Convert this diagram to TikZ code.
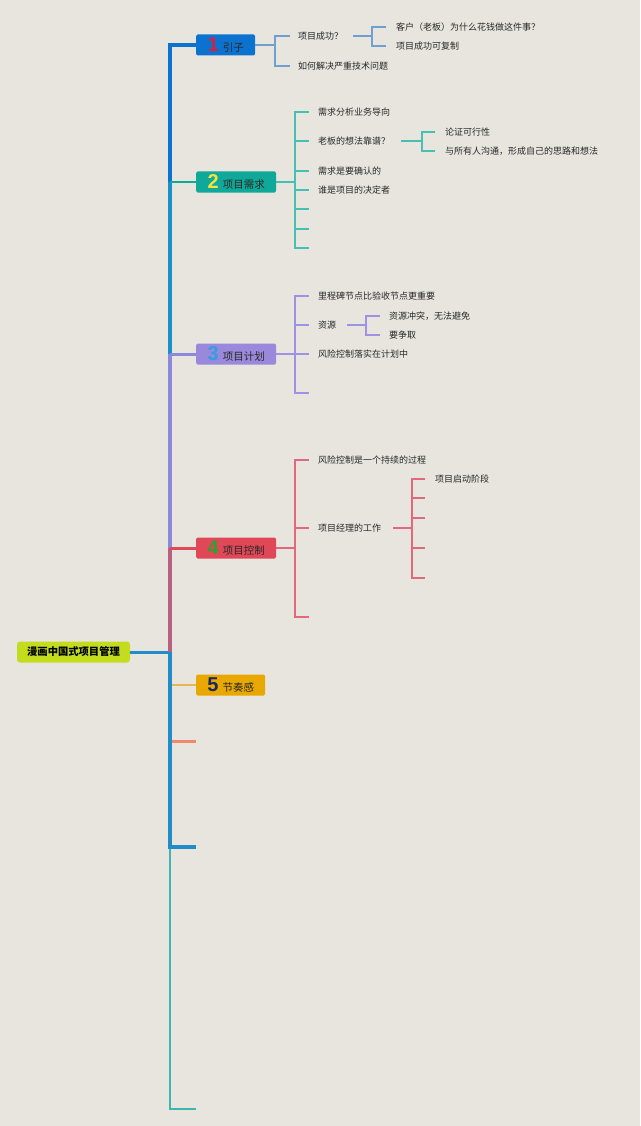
\documentclass[tikz,border=0pt]{standalone}
\usepackage{fontspec}
\setmainfont{Noto Sans CJK SC}
\newfontfamily\numfont{Liberation Sans}
\usetikzlibrary{positioning}
\usetikzlibrary{calc}
\definecolor{paper}{RGB}{232,229,223}
\definecolor{rootfill}{RGB}{196,220,30}
\definecolor{rootline}{RGB}{32,140,200}
\definecolor{topicone}{RGB}{12,114,208}
\definecolor{topictwo}{RGB}{16,168,152}
\definecolor{topicthree}{RGB}{154,136,220}
\definecolor{topicfour}{RGB}{224,72,88}
\definecolor{topicfive}{RGB}{232,168,0}
\definecolor{trunktwo}{RGB}{24,144,200}
\definecolor{trunkthree}{RGB}{140,136,220}
\definecolor{trunkfour}{RGB}{184,96,128}
\definecolor{spareline}{RGB}{240,136,112}
\definecolor{endline}{RGB}{64,180,176}
\definecolor{fiveline}{RGB}{232,184,80}
\definecolor{twigone}{RGB}{110,160,210}
\definecolor{twigtwo}{RGB}{70,192,178}
\definecolor{twigthree}{RGB}{160,146,226}
\definecolor{twigfour}{RGB}{226,104,126}
\definecolor{numone}{RGB}{216,32,60}
\definecolor{numtwo}{RGB}{240,228,64}
\definecolor{numthree}{RGB}{48,160,224}
\definecolor{numfour}{RGB}{48,160,48}
\definecolor{numfive}{RGB}{26,42,96}
\definecolor{ink}{RGB}{40,40,40}
\tikzset{
  topic/.style={anchor=west, rounded corners=1.5pt, minimum height=21pt, inner xsep=2pt, inner ysep=0pt, text=ink, font=\fontsize{10.5}{12}\selectfont},
  rootbox/.style={rounded corners=3pt, fill=rootfill, minimum width=113pt, minimum height=21pt, text=black, font=\fontsize{10.3}{12}\selectfont\bfseries},
  leaf/.style={anchor=west, inner sep=0pt, text=ink, font=\fontsize{9}{10}\selectfont},
  twig/.style={line width=1.3pt},
  trunkline/.style={line width=3.5pt},
}
\newcommand{\topicnum}[2]{{\numfont\bfseries\fontsize{20}{20}\selectfont\textcolor{#1}{#2}}\hspace{4pt}}

\begin{document}
\begin{tikzpicture}[x=1pt, y=-1pt]
    \useasboundingbox[fill=paper] (0,0) rectangle (640,1126);

    % root and main topics
    \node[rootbox] (root) at (73.5,652) {漫画中国式项目管理};
    \coordinate (trunk) at (170,652);

    \node[topic, fill=topicone, minimum width=59pt] (intro) at (196,45) {\topicnum{numone}{1}引子};
    \node[topic, fill=topictwo, minimum width=80pt] (need) at (196,182) {\topicnum{numtwo}{2}项目需求};
    \node[topic, fill=topicthree, minimum width=80pt] (plan) at (196,354) {\topicnum{numthree}{3}项目计划};
    \node[topic, fill=topicfour, minimum width=80pt] (ctrl) at (196,548) {\topicnum{numfour}{4}项目控制};
    \node[topic, fill=topicfive, minimum width=69pt] (rhythm) at (196,685) {\topicnum{numfive}{5}节奏感};
    \coordinate (spare) at (196,741);
    \coordinate (sparetwo) at (196,847);
    \coordinate (spareend) at (196,1109);

    % trunk
    \draw[line width=3pt, rootline] (root.east) -- (trunk);
    \draw[trunkline, topicone] (trunk) |- (intro.west);
    \draw[trunkline, trunktwo] (trunk) -- (trunk |- need.west);
    \draw[line width=1.5pt, topictwo] (trunk |- need.west) -- (need.west);
    \draw[trunkline, trunkthree] (trunk) -- (trunk |- plan.west);
    \draw[line width=3pt, trunkthree] (trunk |- plan.west) -- (plan.west);
    \draw[trunkline, trunkfour] (trunk) -- (trunk |- ctrl.west);
    \draw[line width=3pt, topicfour] (trunk |- ctrl.west) -- (ctrl.west);
    \draw[line width=1.5pt, endline] (trunk) |- (spareend);
    \draw[line width=1.5pt, fiveline] (trunk) |- (rhythm.west);
    \draw[line width=3pt, spareline] (trunk) |- (spare);
    \draw[trunkline, rootline] (trunk) |- (sparetwo);

    % 1
    \node[leaf] (success) at (298,36) {项目成功？};
    \node[leaf] (hardtech) at (298,66) {如何解决严重技术问题};
    \node[leaf] (why) at (396,27) {客户（老板）为什么花钱做这件事？};
    \node[leaf] (repeat) at (396,46) {项目成功可复制};
    \coordinate (introfork) at (275,45);
    \coordinate (successfork) at (372,36);
    \draw[twig, twigone] (intro.east) -- (introfork);
    \draw[twig, twigone] ([xshift=-8pt]success.west) -| (introfork) |- ([xshift=-8pt]hardtech.west);
    \draw[twig, twigone] ([xshift=10pt]success.east) -- (successfork);
    \draw[twig, twigone] ([xshift=-10pt]why.west) -| (successfork) |- ([xshift=-10pt]repeat.west);

    % 2
    \node[leaf] (biz) at (318,112) {需求分析业务导向};
    \node[leaf] (boss) at (318,141) {老板的想法靠谱？};
    \node[leaf] (confirm) at (318,171) {需求是要确认的};
    \node[leaf] (decider) at (318,190) {谁是项目的决定者};
    \node[leaf] (feasible) at (445,132) {论证可行性};
    \node[leaf] (talk) at (445,151) {与所有人沟通，形成自己的思路和想法};
    \coordinate (needfork) at (295,182);
    \coordinate (needa) at (309,209);
    \coordinate (needb) at (309,229);
    \coordinate (needc) at (309,248);
    \coordinate (bossfork) at (422,141);
    \draw[twig, twigtwo] (need.east) -- (needfork);
    \draw[twig, twigtwo] ([xshift=-9pt]biz.west) -| (needfork) |- (needc);
    \foreach \leafname in {boss,confirm,decider}
        \draw[twig, twigtwo] (needfork |- \leafname.west) -- ([xshift=-9pt]\leafname.west);
    \foreach \tick in {needa,needb}
        \draw[twig, twigtwo] (needfork |- \tick) -- (\tick);
    \draw[twig, twigtwo] ([xshift=11pt]boss.east) -- (bossfork);
    \draw[twig, twigtwo] ([xshift=-10pt]feasible.west) -| (bossfork) |- ([xshift=-10pt]talk.west);

    % 3
    \node[leaf] (milestone) at (318,296) {里程碑节点比验收节点更重要};
    \node[leaf] (resource) at (318,325) {资源};
    \node[leaf] (riskplan) at (318,354) {风险控制落实在计划中};
    \node[leaf] (conflict) at (389,316) {资源冲突，无法避免};
    \node[leaf] (fight) at (389,335) {要争取};
    \coordinate (planfork) at (295,354);
    \coordinate (plana) at (309,393);
    \coordinate (resfork) at (366,325);
    \draw[twig, twigthree] (plan.east) -- (planfork);
    \draw[twig, twigthree] ([xshift=-9pt]milestone.west) -| (planfork) |- (plana);
    \foreach \leafname in {resource,riskplan}
        \draw[twig, twigthree] (planfork |- \leafname.west) -- ([xshift=-9pt]\leafname.west);
    \draw[twig, twigthree] ([xshift=11pt]resource.east) -- (resfork);
    \draw[twig, twigthree] ([xshift=-9pt]conflict.west) -| (resfork) |- ([xshift=-9pt]fight.west);

    % 4
    \node[leaf] (riskgo) at (318,460) {风险控制是一个持续的过程};
    \node[leaf] (pmwork) at (318,528) {项目经理的工作};
    \node[leaf] (kickoff) at (435,479) {项目启动阶段};
    \coordinate (ctrlfork) at (295,548);
    \coordinate (ctrla) at (309,617);
    \coordinate (pmfork) at (412,528);
    \coordinate (pma) at (425,498);
    \coordinate (pmb) at (425,518);
    \coordinate (pmc) at (425,548);
    \coordinate (pmd) at (425,578);
    \draw[twig, twigfour] (ctrl.east) -- (ctrlfork);
    \draw[twig, twigfour] ([xshift=-9pt]riskgo.west) -| (ctrlfork) |- (ctrla);
    \draw[twig, twigfour] (ctrlfork |- pmwork.west) -- ([xshift=-9pt]pmwork.west);
    \draw[twig, twigfour] ([xshift=12pt]pmwork.east) -- (pmfork);
    \draw[twig, twigfour] ([xshift=-10pt]kickoff.west) -| (pmfork) |- (pmd);
    \foreach \tick in {pma,pmb,pmc}
        \draw[twig, twigfour] (pmfork |- \tick) -- (\tick);

\end{tikzpicture}
\end{document}
